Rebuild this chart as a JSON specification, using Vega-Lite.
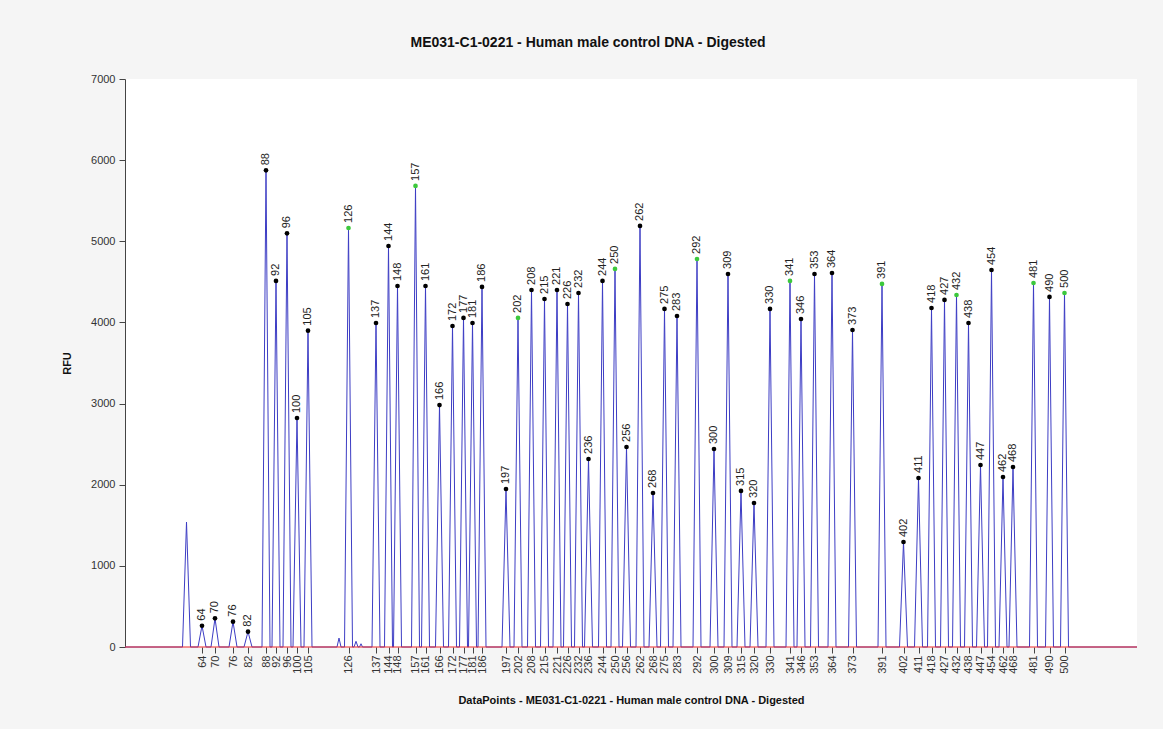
{
  "$schema": "https://vega.github.io/schema/vega-lite/v6.json",
  "width": 1012,
  "height": 568,
  "autosize": {"type": "none"},
  "padding": {"left": 125, "top": 79, "right": 26, "bottom": 82},
  "background": "#f5f5f5",
  "config": {"view": {"fill": "white", "stroke": null}, "font": "Liberation Sans"},
  "title": {"text": "ME031-C1-0221 - Human male control DNA - Digested", "fontSize": 14, "fontWeight": "bold", "color": "#111111", "dx": -43, "offset": 23},
  "datasets": {
    "trace": [
      {"dp":0,"rfu":0},
      {"dp":575,"rfu":0},{"dp":615,"rfu":1540},{"dp":655,"rfu":0},
      {"dp":730,"rfu":0},{"dp":770,"rfu":262},{"dp":810,"rfu":0},
      {"dp":860,"rfu":0},{"dp":900,"rfu":353},{"dp":940,"rfu":0},
      {"dp":1040,"rfu":0},{"dp":1080,"rfu":312},{"dp":1120,"rfu":0},
      {"dp":1190,"rfu":0},{"dp":1230,"rfu":189},{"dp":1270,"rfu":0},
      {"dp":1370,"rfu":0},{"dp":1410,"rfu":5875},{"dp":1450,"rfu":0},
      {"dp":1470,"rfu":0},{"dp":1510,"rfu":4511},{"dp":1550,"rfu":0},
      {"dp":1580,"rfu":0},{"dp":1620,"rfu":5098},{"dp":1660,"rfu":0},
      {"dp":1680,"rfu":0},{"dp":1720,"rfu":2822},{"dp":1760,"rfu":0},
      {"dp":1790,"rfu":0},{"dp":1830,"rfu":3898},{"dp":1870,"rfu":0},
      {"dp":2120,"rfu":0},{"dp":2140,"rfu":110},{"dp":2160,"rfu":0},
      {"dp":2195,"rfu":0},{"dp":2235,"rfu":5164},{"dp":2275,"rfu":0},
      {"dp":2290,"rfu":0},{"dp":2310,"rfu":70},{"dp":2330,"rfu":0},
      {"dp":2345,"rfu":0},{"dp":2360,"rfu":40},{"dp":2375,"rfu":0},
      {"dp":2470,"rfu":0},{"dp":2510,"rfu":3993},{"dp":2550,"rfu":0},
      {"dp":2595,"rfu":0},{"dp":2635,"rfu":4942},{"dp":2675,"rfu":0},
      {"dp":2685,"rfu":0},{"dp":2725,"rfu":4449},{"dp":2765,"rfu":0},
      {"dp":2865,"rfu":0},{"dp":2905,"rfu":5682},{"dp":2945,"rfu":0},
      {"dp":2965,"rfu":0},{"dp":3005,"rfu":4449},{"dp":3045,"rfu":0},
      {"dp":3105,"rfu":0},{"dp":3145,"rfu":2982},{"dp":3185,"rfu":0},
      {"dp":3235,"rfu":0},{"dp":3275,"rfu":3956},{"dp":3315,"rfu":0},
      {"dp":3345,"rfu":0},{"dp":3385,"rfu":4055},{"dp":3425,"rfu":0},
      {"dp":3435,"rfu":0},{"dp":3475,"rfu":3993},{"dp":3515,"rfu":0},
      {"dp":3530,"rfu":0},{"dp":3570,"rfu":4437},{"dp":3610,"rfu":0},
      {"dp":3770,"rfu":0},{"dp":3810,"rfu":1947},{"dp":3850,"rfu":0},
      {"dp":3890,"rfu":0},{"dp":3930,"rfu":4055},{"dp":3970,"rfu":0},
      {"dp":4025,"rfu":0},{"dp":4065,"rfu":4400},{"dp":4105,"rfu":0},
      {"dp":4155,"rfu":0},{"dp":4195,"rfu":4289},{"dp":4235,"rfu":0},
      {"dp":4280,"rfu":0},{"dp":4320,"rfu":4400},{"dp":4360,"rfu":0},
      {"dp":4385,"rfu":0},{"dp":4425,"rfu":4227},{"dp":4465,"rfu":0},
      {"dp":4495,"rfu":0},{"dp":4535,"rfu":4363},{"dp":4575,"rfu":0},
      {"dp":4595,"rfu":0},{"dp":4635,"rfu":2317},{"dp":4675,"rfu":0},
      {"dp":4735,"rfu":0},{"dp":4775,"rfu":4511},{"dp":4815,"rfu":0},
      {"dp":4860,"rfu":0},{"dp":4900,"rfu":4659},{"dp":4940,"rfu":0},
      {"dp":4975,"rfu":0},{"dp":5015,"rfu":2465},{"dp":5055,"rfu":0},
      {"dp":5110,"rfu":0},{"dp":5150,"rfu":5189},{"dp":5190,"rfu":0},
      {"dp":5240,"rfu":0},{"dp":5280,"rfu":1898},{"dp":5320,"rfu":0},
      {"dp":5355,"rfu":0},{"dp":5395,"rfu":4166},{"dp":5435,"rfu":0},
      {"dp":5480,"rfu":0},{"dp":5520,"rfu":4079},{"dp":5560,"rfu":0},
      {"dp":5680,"rfu":0},{"dp":5720,"rfu":4782},{"dp":5760,"rfu":0},
      {"dp":5850,"rfu":0},{"dp":5890,"rfu":2440},{"dp":5930,"rfu":0},
      {"dp":5990,"rfu":0},{"dp":6030,"rfu":4597},{"dp":6070,"rfu":0},
      {"dp":6120,"rfu":0},{"dp":6160,"rfu":1923},{"dp":6200,"rfu":0},
      {"dp":6250,"rfu":0},{"dp":6290,"rfu":1775},{"dp":6330,"rfu":0},
      {"dp":6410,"rfu":0},{"dp":6450,"rfu":4166},{"dp":6490,"rfu":0},
      {"dp":6610,"rfu":0},{"dp":6650,"rfu":4511},{"dp":6690,"rfu":0},
      {"dp":6720,"rfu":0},{"dp":6760,"rfu":4042},{"dp":6800,"rfu":0},
      {"dp":6855,"rfu":0},{"dp":6895,"rfu":4597},{"dp":6935,"rfu":0},
      {"dp":7030,"rfu":0},{"dp":7070,"rfu":4609},{"dp":7110,"rfu":0},
      {"dp":7235,"rfu":0},{"dp":7275,"rfu":3907},{"dp":7315,"rfu":0},
      {"dp":7530,"rfu":0},{"dp":7570,"rfu":4474},{"dp":7610,"rfu":0},
      {"dp":7745,"rfu":0},{"dp":7785,"rfu":1294},{"dp":7825,"rfu":0},
      {"dp":7895,"rfu":0},{"dp":7935,"rfu":2083},{"dp":7975,"rfu":0},
      {"dp":8025,"rfu":0},{"dp":8065,"rfu":4178},{"dp":8105,"rfu":0},
      {"dp":8155,"rfu":0},{"dp":8195,"rfu":4277},{"dp":8235,"rfu":0},
      {"dp":8275,"rfu":0},{"dp":8315,"rfu":4338},{"dp":8355,"rfu":0},
      {"dp":8395,"rfu":0},{"dp":8435,"rfu":3993},{"dp":8475,"rfu":0},
      {"dp":8515,"rfu":0},{"dp":8555,"rfu":2243},{"dp":8595,"rfu":0},
      {"dp":8625,"rfu":0},{"dp":8665,"rfu":4646},{"dp":8705,"rfu":0},
      {"dp":8740,"rfu":0},{"dp":8780,"rfu":2095},{"dp":8820,"rfu":0},
      {"dp":8840,"rfu":0},{"dp":8880,"rfu":2218},{"dp":8920,"rfu":0},
      {"dp":9045,"rfu":0},{"dp":9085,"rfu":4486},{"dp":9125,"rfu":0},
      {"dp":9205,"rfu":0},{"dp":9245,"rfu":4314},{"dp":9285,"rfu":0},
      {"dp":9355,"rfu":0},{"dp":9395,"rfu":4363},{"dp":9435,"rfu":0},
      {"dp":10120,"rfu":0}
    ],
    "peaks": [
      {"size":"64","dp":770,"rfu":262,"kind":"called"},
      {"size":"70","dp":900,"rfu":353,"kind":"called"},
      {"size":"76","dp":1080,"rfu":312,"kind":"called"},
      {"size":"82","dp":1230,"rfu":189,"kind":"called"},
      {"size":"88","dp":1410,"rfu":5875,"kind":"called"},
      {"size":"92","dp":1510,"rfu":4511,"kind":"called"},
      {"size":"96","dp":1620,"rfu":5098,"kind":"called"},
      {"size":"100","dp":1720,"rfu":2822,"kind":"called"},
      {"size":"105","dp":1830,"rfu":3898,"kind":"called"},
      {"size":"126","dp":2235,"rfu":5164,"kind":"flagged"},
      {"size":"137","dp":2510,"rfu":3993,"kind":"called"},
      {"size":"144","dp":2635,"rfu":4942,"kind":"called"},
      {"size":"148","dp":2725,"rfu":4449,"kind":"called"},
      {"size":"157","dp":2905,"rfu":5682,"kind":"flagged"},
      {"size":"161","dp":3005,"rfu":4449,"kind":"called"},
      {"size":"166","dp":3145,"rfu":2982,"kind":"called"},
      {"size":"172","dp":3275,"rfu":3956,"kind":"called"},
      {"size":"177","dp":3385,"rfu":4055,"kind":"called"},
      {"size":"181","dp":3475,"rfu":3993,"kind":"called"},
      {"size":"186","dp":3570,"rfu":4437,"kind":"called"},
      {"size":"197","dp":3810,"rfu":1947,"kind":"called"},
      {"size":"202","dp":3930,"rfu":4055,"kind":"flagged"},
      {"size":"208","dp":4065,"rfu":4400,"kind":"called"},
      {"size":"215","dp":4195,"rfu":4289,"kind":"called"},
      {"size":"221","dp":4320,"rfu":4400,"kind":"called"},
      {"size":"226","dp":4425,"rfu":4227,"kind":"called"},
      {"size":"232","dp":4535,"rfu":4363,"kind":"called"},
      {"size":"236","dp":4635,"rfu":2317,"kind":"called"},
      {"size":"244","dp":4775,"rfu":4511,"kind":"called"},
      {"size":"250","dp":4900,"rfu":4659,"kind":"flagged"},
      {"size":"256","dp":5015,"rfu":2465,"kind":"called"},
      {"size":"262","dp":5150,"rfu":5189,"kind":"called"},
      {"size":"268","dp":5280,"rfu":1898,"kind":"called"},
      {"size":"275","dp":5395,"rfu":4166,"kind":"called"},
      {"size":"283","dp":5520,"rfu":4079,"kind":"called"},
      {"size":"292","dp":5720,"rfu":4782,"kind":"flagged"},
      {"size":"300","dp":5890,"rfu":2440,"kind":"called"},
      {"size":"309","dp":6030,"rfu":4597,"kind":"called"},
      {"size":"315","dp":6160,"rfu":1923,"kind":"called"},
      {"size":"320","dp":6290,"rfu":1775,"kind":"called"},
      {"size":"330","dp":6450,"rfu":4166,"kind":"called"},
      {"size":"341","dp":6650,"rfu":4511,"kind":"flagged"},
      {"size":"346","dp":6760,"rfu":4042,"kind":"called"},
      {"size":"353","dp":6895,"rfu":4597,"kind":"called"},
      {"size":"364","dp":7070,"rfu":4609,"kind":"called"},
      {"size":"373","dp":7275,"rfu":3907,"kind":"called"},
      {"size":"391","dp":7570,"rfu":4474,"kind":"flagged"},
      {"size":"402","dp":7785,"rfu":1294,"kind":"called"},
      {"size":"411","dp":7935,"rfu":2083,"kind":"called"},
      {"size":"418","dp":8065,"rfu":4178,"kind":"called"},
      {"size":"427","dp":8195,"rfu":4277,"kind":"called"},
      {"size":"432","dp":8315,"rfu":4338,"kind":"flagged"},
      {"size":"438","dp":8435,"rfu":3993,"kind":"called"},
      {"size":"447","dp":8555,"rfu":2243,"kind":"called"},
      {"size":"454","dp":8665,"rfu":4646,"kind":"called"},
      {"size":"462","dp":8780,"rfu":2095,"kind":"called"},
      {"size":"468","dp":8880,"rfu":2218,"kind":"called"},
      {"size":"481","dp":9085,"rfu":4486,"kind":"flagged"},
      {"size":"490","dp":9245,"rfu":4314,"kind":"called"},
      {"size":"500","dp":9395,"rfu":4363,"kind":"flagged"}
    ]
  },
  "layer": [
    {
      "data": {"name": "trace"},
      "mark": {"type": "line", "color": "#3d3dc4", "strokeWidth": 1},
      "encoding": {
        "x": {
          "field": "dp", "type": "quantitative",
          "scale": {"domain": [0, 10120], "nice": false, "zero": false},
          "axis": {
            "title": "DataPoints - ME031-C1-0221 - Human male control DNA - Digested",
            "titleFontSize": 11, "titleFontWeight": "bold", "titleColor": "#111111", "titlePadding": 21,
            "tickCount": 200,
            "values": [770,900,1080,1230,1410,1510,1620,1720,1830,2235,2510,2635,2725,2905,3005,3145,3275,3385,3475,3570,3810,3930,4065,4195,4320,4425,4535,4635,4775,4900,5015,5150,5280,5395,5520,5720,5890,6030,6160,6290,6450,6650,6760,6895,7070,7275,7570,7785,7935,8065,8195,8315,8435,8555,8665,8780,8880,9085,9245,9395],
            "labelExpr": "{'770':'64','900':'70','1080':'76','1230':'82','1410':'88','1510':'92','1620':'96','1720':'100','1830':'105','2235':'126','2510':'137','2635':'144','2725':'148','2905':'157','3005':'161','3145':'166','3275':'172','3385':'177','3475':'181','3570':'186','3810':'197','3930':'202','4065':'208','4195':'215','4320':'221','4425':'226','4535':'232','4635':'236','4775':'244','4900':'250','5015':'256','5150':'262','5280':'268','5395':'275','5520':'283','5720':'292','5890':'300','6030':'309','6160':'315','6290':'320','6450':'330','6650':'341','6760':'346','6895':'353','7070':'364','7275':'373','7570':'391','7785':'402','7935':'411','8065':'418','8195':'427','8315':'432','8435':'438','8555':'447','8665':'454','8780':'462','8880':'468','9085':'481','9245':'490','9395':'500'}['' + datum.value]",
            "labelAngle": 270, "labelAlign": "right", "labelBaseline": "middle",
            "labelFontSize": 11, "labelColor": "#333333", "labelOverlap": false, "labelPadding": 2,
            "labelFlush": false, "tickColor": "#444444", "tickSize": 6, "domain": false, "grid": false
          }
        },
        "y": {
          "field": "rfu", "type": "quantitative",
          "scale": {"domain": [0, 7000], "nice": false},
          "axis": {
            "title": "RFU", "titleFontSize": 11, "titleFontWeight": "bold", "titleColor": "#111111", "titlePadding": 18,
            "values": [0,1000,2000,3000,4000,5000,6000,7000], "format": "d",
            "labelFontSize": 11, "labelColor": "#333333", "labelPadding": 4,
            "tickColor": "#444444", "tickSize": 6, "domainColor": "#444444", "grid": false
          }
        }
      }
    },
    {
      "data": {"values": [{}]},
      "mark": {"type": "rule", "color": "#ee2b2b", "strokeWidth": 1},
      "encoding": {"y": {"datum": 0}}
    },
    {
      "data": {"name": "peaks"},
      "mark": {"type": "circle", "size": 22, "opacity": 1},
      "encoding": {
        "x": {"field": "dp", "type": "quantitative"},
        "y": {"field": "rfu", "type": "quantitative"},
        "color": {"field": "kind", "type": "nominal", "scale": {"domain": ["called", "flagged"], "range": ["#000000", "#3cc83c"]}, "legend": null}
      }
    },
    {
      "data": {"name": "peaks"},
      "mark": {"type": "text", "angle": 270, "align": "left", "baseline": "middle", "dx": 5, "fontSize": 11, "color": "#222222"},
      "encoding": {
        "x": {"field": "dp", "type": "quantitative"},
        "y": {"field": "rfu", "type": "quantitative"},
        "text": {"field": "size"}
      }
    }
  ]
}
